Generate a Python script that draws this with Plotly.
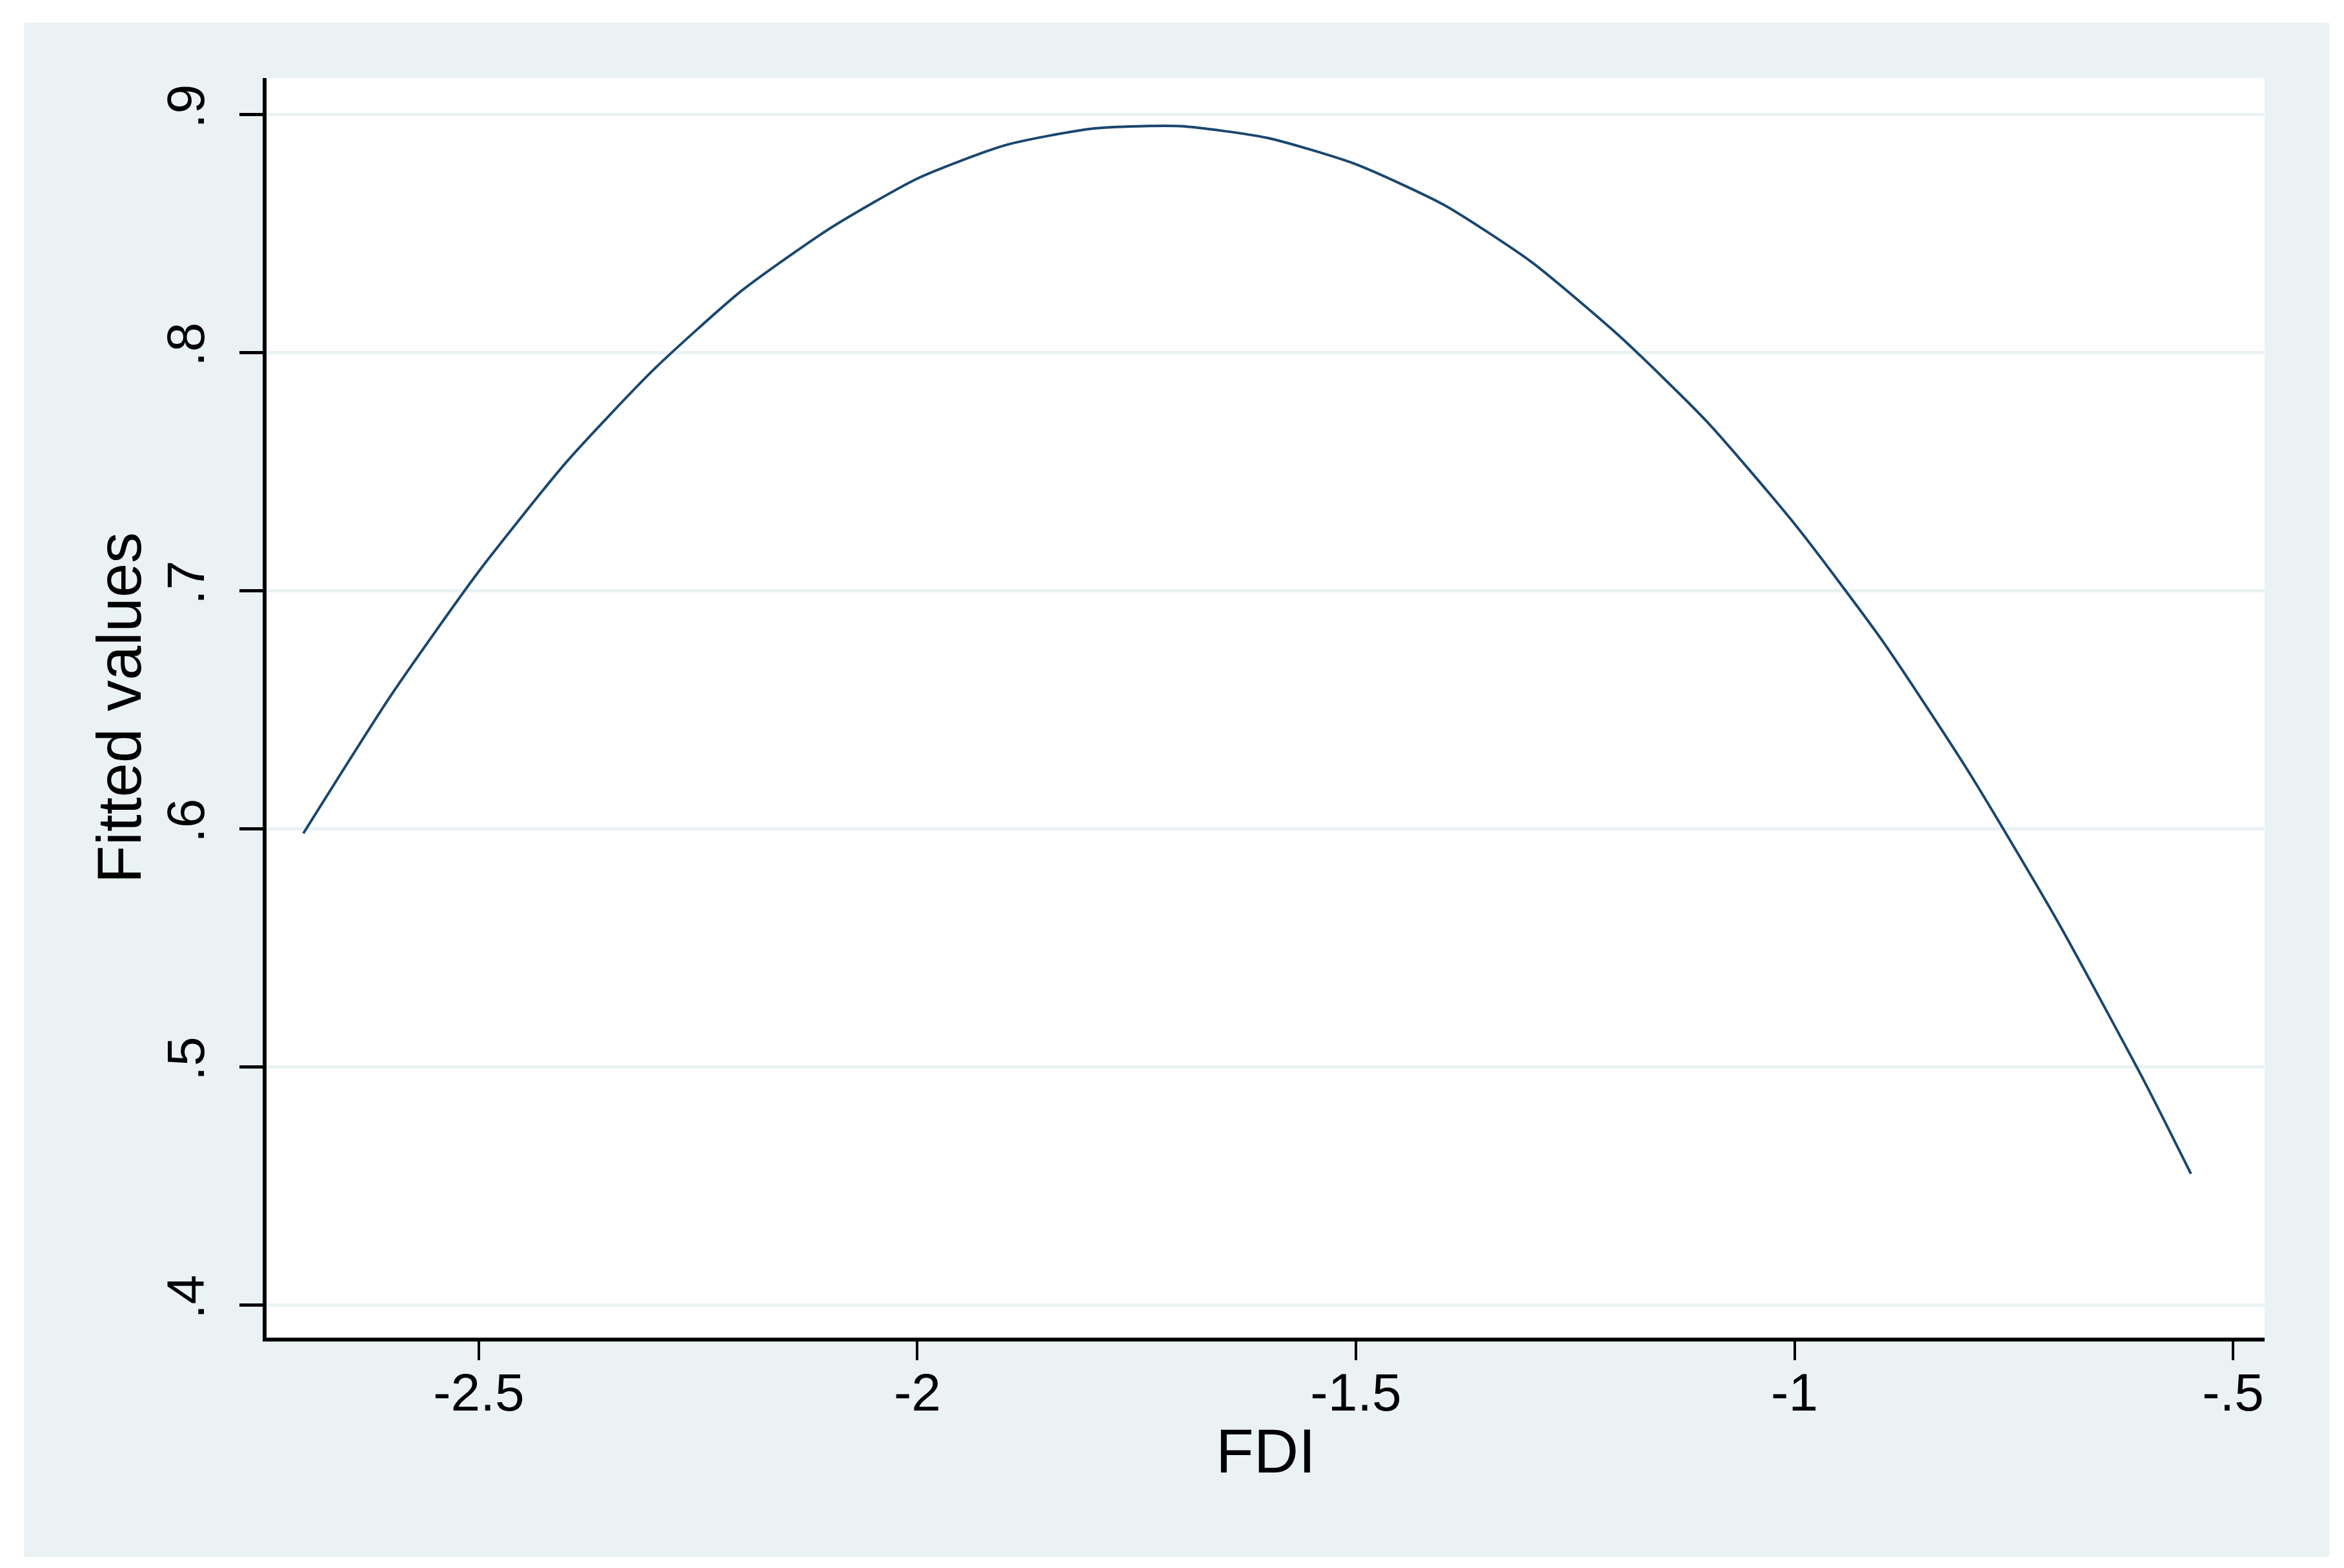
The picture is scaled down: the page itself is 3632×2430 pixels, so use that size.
import plotly.graph_objects as go

# Data (fitted values vs FDI)
fdi = [-2.70, -2.60, -2.50, -2.40, -2.30, -2.20, -2.10, -2.00, -1.90, -1.80,
       -1.70, -1.60, -1.50, -1.40, -1.30, -1.20, -1.10, -1.00, -0.90, -0.80,
       -0.70, -0.60, -0.548]
fitted = [0.598, 0.656, 0.708, 0.754, 0.793, 0.826, 0.852, 0.873, 0.887, 0.894,
          0.895, 0.890, 0.879, 0.862, 0.838, 0.807, 0.771, 0.728, 0.679, 0.623,
          0.561, 0.493, 0.455]

x_tickvals = [-2.5, -2, -1.5, -1, -0.5]
x_ticktext = ["-2.5", "-2", "-1.5", "-1", "-.5"]
y_tickvals = [0.4, 0.5, 0.6, 0.7, 0.8, 0.9]
y_ticktext = [".4", ".5", ".6", ".7", ".8", ".9"]
x_title = "FDI"
y_title = "Fitted values"

BG = "#EAF2F3"
NAVY = "#1a476f"
FONT = "Liberation Sans, Arial, sans-serif"

fig = go.Figure()
fig.add_trace(go.Scatter(
    x=fdi, y=fitted, mode="lines",
    line=dict(color=NAVY, width=4, shape="spline", smoothing=0.6),
    showlegend=False, hoverinfo="skip",
))

# white outer frame around the light Stata-style background (margin strips only)
W = dict(type="rect", xref="paper", yref="paper", fillcolor="white",
         line=dict(width=0), layer="above")
frame = [
    dict(W, x0=-0.2, x1=-0.12145, y0=-0.3, y1=1.2),   # left strip
    dict(W, x0=1.03230, x1=1.1, y0=-0.3, y1=1.2),     # right strip
    dict(W, x0=-0.2, x1=1.1, y0=1.04406, y1=1.2),     # top strip
    dict(W, x0=-0.2, x1=1.1, y0=-0.3, y1=-0.17418),   # bottom strip
]

fig.update_layout(
    width=3632, height=2430,
    margin=dict(l=405, r=131, t=113, b=365, pad=0),
    paper_bgcolor=BG,
    plot_bgcolor="white",
    font=dict(family=FONT, color="black", size=82),
    showlegend=False,
    shapes=frame,
    annotations=[
        dict(text=x_title, xref="paper", yref="paper", x=0.5, y=-0.090,
             xanchor="center", yanchor="middle", showarrow=False,
             font=dict(size=96, family=FONT, color="black")),
        dict(text=y_title, xref="paper", yref="paper", x=-0.074, y=0.5,
             xanchor="center", yanchor="middle", showarrow=False, textangle=-90,
             font=dict(size=96, family=FONT, color="black")),
    ],
)

fig.update_xaxes(
    range=[-2.742, -0.464],
    tickvals=x_tickvals, ticktext=x_ticktext,
    tickfont=dict(size=82, family=FONT, color="black"),
    ticks="outside", ticklen=29, tickwidth=4, tickcolor="black",
    ticklabelstandoff=-20,
    showline=True, linecolor="black", linewidth=6, mirror=False,
    showgrid=False, zeroline=False,
)
fig.update_yaxes(
    range=[0.3862, 0.9152],
    tickvals=y_tickvals, ticktext=y_ticktext, tickangle=-90,
    tickfont=dict(size=82, family=FONT, color="black"),
    ticks="outside", ticklen=36, tickwidth=5, tickcolor="black",
    ticklabelstandoff=22,
    showline=True, linecolor="black", linewidth=6, mirror=False,
    showgrid=True, gridcolor=BG, gridwidth=5, zeroline=False,
)

fig.write_html("out.html")
